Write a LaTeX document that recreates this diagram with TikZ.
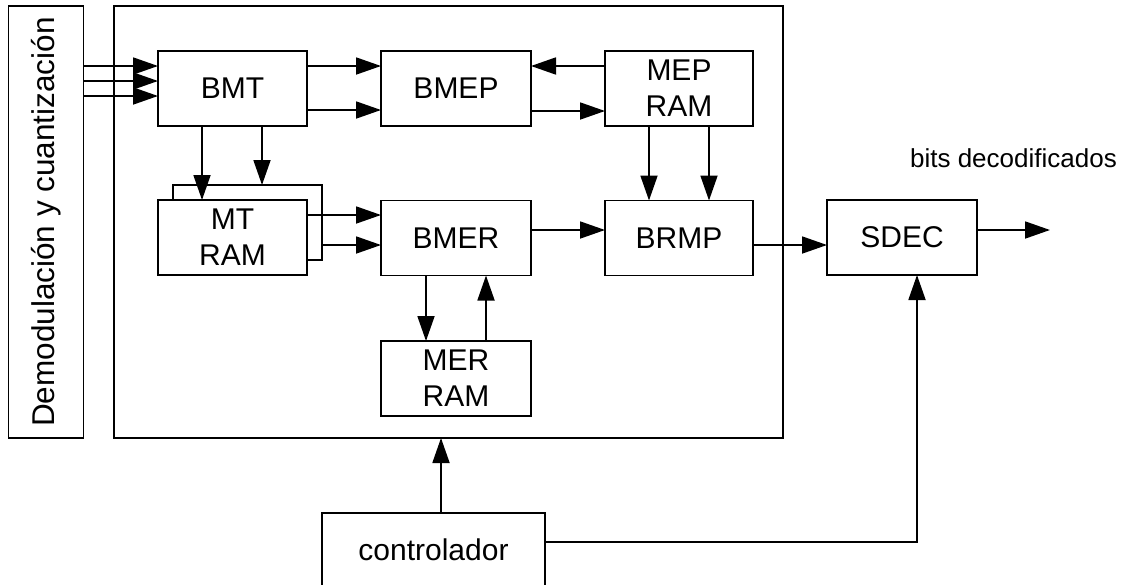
\documentclass[tikz,border=0pt]{standalone}
\usepackage{fontspec}
\setmainfont{Liberation Sans}
\usetikzlibrary{arrows.meta,calc}
\begin{document}
\begin{tikzpicture}[x=1pt,y=-1pt,
  lw/.style={line width=1.8pt},
  blk/.style={draw,lw,fill=white,inner sep=0pt,outer sep=0pt,align=center,
    font=\fontsize{30}{36}\selectfont},
  arr/.style={lw,-{Triangle[length=25pt,width=17pt]}},
  ln/.style={lw}]
\useasboundingbox (0,0) rectangle (1122,584);
% containers
\node[blk,minimum width=669pt,minimum height=432pt] (main) at (448.5,222) {};
\node[blk,minimum width=75pt,minimum height=432pt] (demod) at (46,222)
  {\rotatebox{90}{\fontsize{31.5}{33}\selectfont Demodulación y cuantización}};
% blocks
\node[blk,minimum width=149pt,minimum height=75pt] (BMT) at (232.5,88.5) {BMT};
\node[blk,minimum width=150pt,minimum height=75pt] (BMEP) at (456,88.5) {BMEP};
\node[blk,minimum width=148pt,minimum height=75pt] (MEPRAM) at (679,88.5) {MEP\\RAM};
\node[blk,minimum width=149pt,minimum height=75pt] (MTback) at (247.5,222.5) {};
\node[blk,minimum width=149pt,minimum height=75pt] (MTRAM) at (232.5,237.5) {MT\\RAM};
\node[blk,minimum width=150pt,minimum height=75pt] (BMER) at (456,238) {BMER};
\node[blk,minimum width=148pt,minimum height=75pt] (BRMP) at (679,238) {BRMP};
\node[blk,minimum width=150pt,minimum height=75pt] (SDEC) at (902,237.5) {SDEC};
\node[blk,minimum width=150pt,minimum height=75pt] (MERRAM) at (456,378.5) {MER\\RAM};
\node[blk,minimum width=223pt,minimum height=74pt] (ctrl) at (433.5,550) {controlador};
\node[font=\fontsize{26}{27}\selectfont,anchor=east,inner sep=0pt] (bits) at (1117,158) {bits decodificados};
\coordinate (out) at (1050,230);
% input arrows
\foreach \yy in {66,81,96}
  \draw[arr] (demod.east |- 0,\yy) -- (BMT.west |- 0,\yy);
% BMT -> BMEP
\draw[arr] (BMT.east |- 0,66) -- (BMEP.west |- 0,66);
\draw[arr] (BMT.east |- 0,110) -- (BMEP.west |- 0,110);
% BMEP <-> MEP RAM
\draw[arr] (MEPRAM.west |- 0,66) -- (BMEP.east |- 0,66);
\draw[arr] (BMEP.east |- 0,111) -- (MEPRAM.west |- 0,111);
% BMT -> MT RAM
\draw[arr] (BMT.south -| 202,0) -- (MTRAM.north -| 202,0);
\draw[arr] (BMT.south -| 262,0) -- (MTback.north -| 262,0);
% MT RAM -> BMER
\draw[arr] (MTRAM.east |- 0,215) -- (BMER.west |- 0,215);
\draw[arr] (MTback.east |- 0,245) -- (BMER.west |- 0,245);
% MEP RAM -> BRMP
\draw[arr] (MEPRAM.south -| 649,0) -- (BRMP.north -| 649,0);
\draw[arr] (MEPRAM.south -| 709,0) -- (BRMP.north -| 709,0);
% BMER -> BRMP
\draw[arr] (BMER.east |- 0,230) -- (BRMP.west |- 0,230);
% BMER <-> MER RAM
\draw[arr] (BMER.south -| 426,0) -- (MERRAM.north -| 426,0);
\draw[arr] (MERRAM.north -| 486,0) -- (BMER.south -| 486,0);
% BRMP -> SDEC -> out
\draw[arr] (BRMP.east |- 0,245) -- (SDEC.west |- 0,245);
\draw[arr] (SDEC.east |- out) -- (out);
% controller
\draw[arr] (ctrl.north -| 441,0) -- (main.south -| 441,0);
\draw[arr] (ctrl.east |- 0,542) -- (917,542) -- (SDEC.south -| 917,0);
\end{tikzpicture}
\end{document}
